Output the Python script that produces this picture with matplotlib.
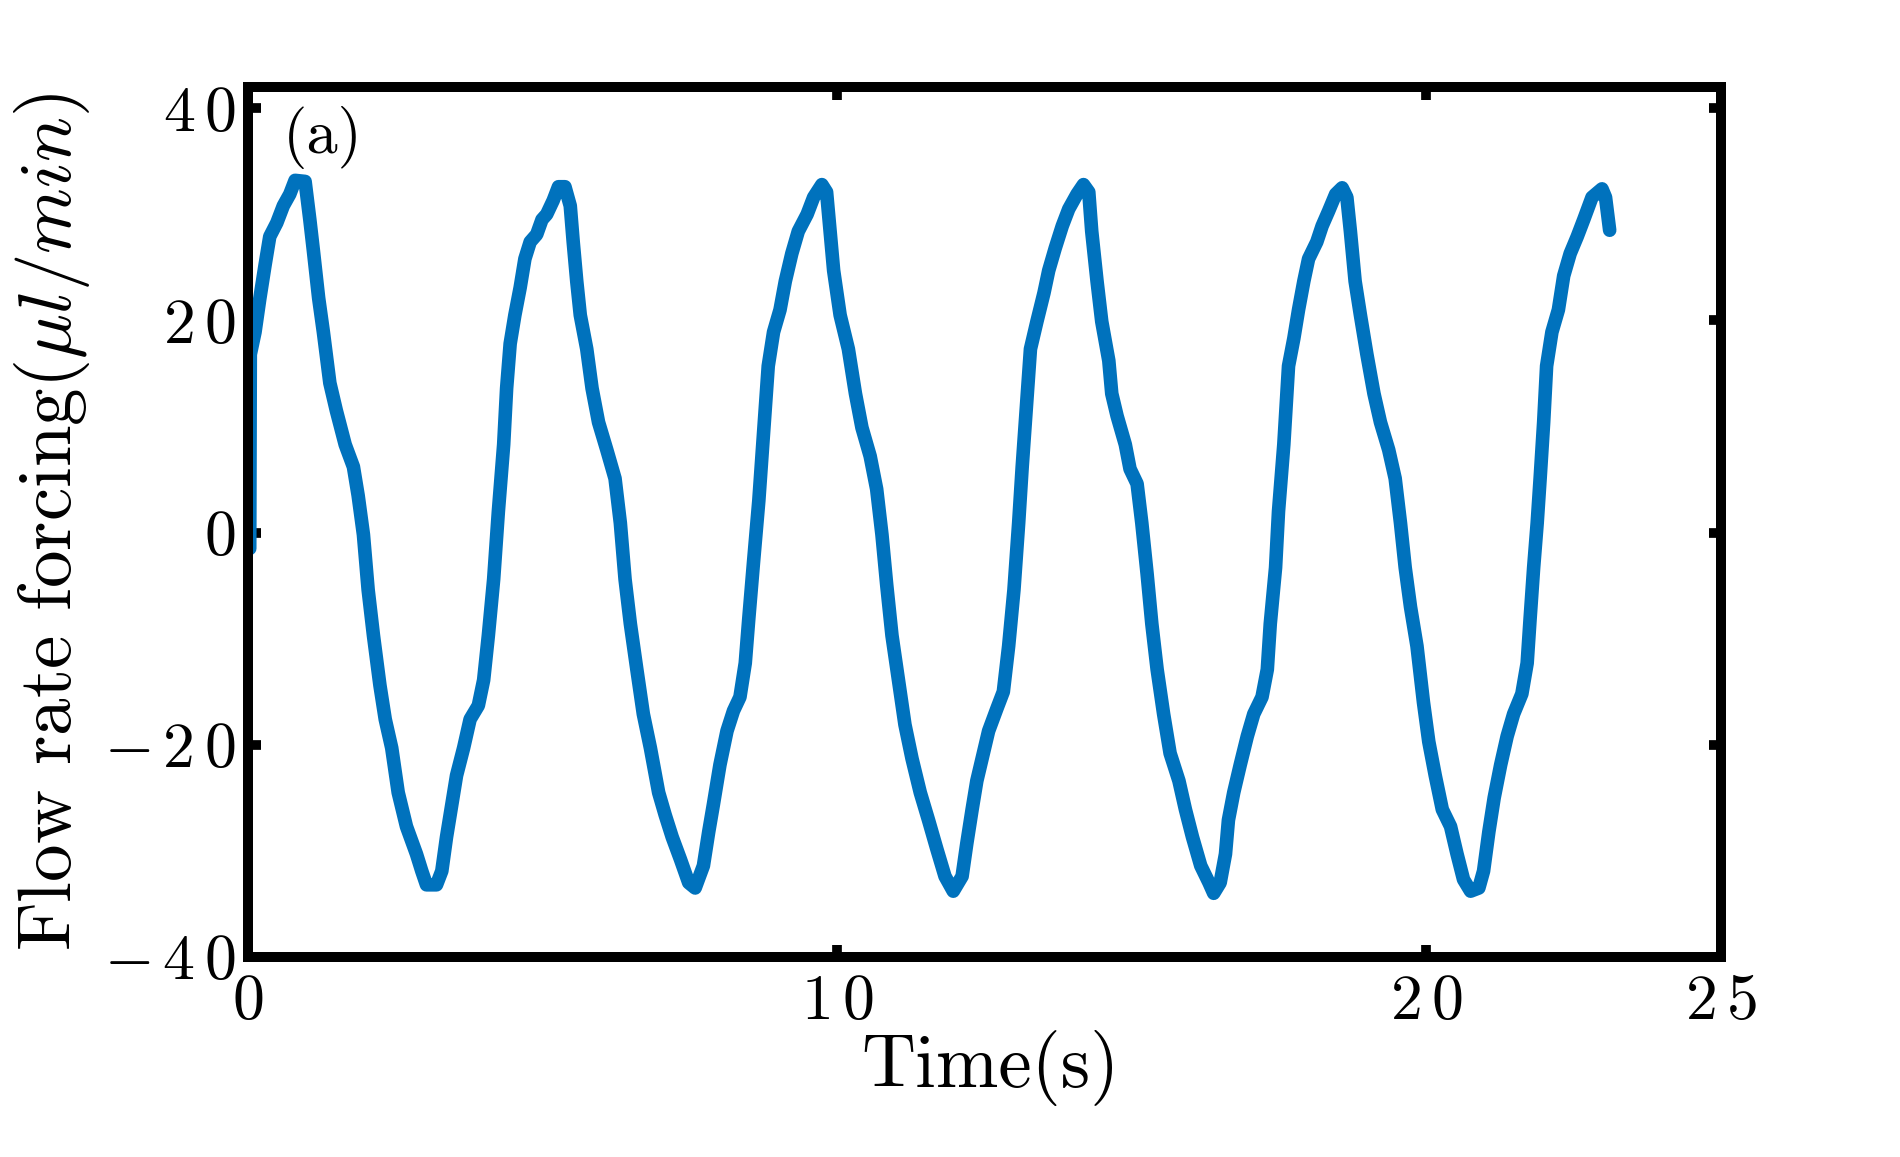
import matplotlib
matplotlib.use("Agg")
import matplotlib.pyplot as plt

# ---- data ----
time_s = [0.03, 0.04, 0.12, 0.20, 0.29, 0.37, 0.49, 0.60, 0.71, 0.80, 0.97, 1.05, 1.11, 1.20, 1.28,
          1.39, 1.50, 1.65, 1.79, 1.87, 1.96, 2.04, 2.13, 2.24, 2.33, 2.44, 2.55, 2.69, 2.86, 2.95,
          3.03, 3.20, 3.29, 3.37, 3.46, 3.54, 3.66, 3.77, 3.91, 4.00, 4.08, 4.17, 4.25, 4.34, 4.39,
          4.45, 4.53, 4.62, 4.70, 4.79, 4.90, 4.99, 5.07, 5.18, 5.27, 5.38, 5.47, 5.52, 5.58, 5.64,
          5.75, 5.84, 5.95, 6.09, 6.23, 6.32, 6.40, 6.49, 6.60, 6.71, 6.83, 6.97, 7.08, 7.20, 7.34,
          7.48, 7.59, 7.73, 7.82, 7.90, 8.01, 8.13, 8.24, 8.35, 8.44, 8.50, 8.58, 8.67, 8.75, 8.83,
          8.92, 9.03, 9.12, 9.23, 9.34, 9.49, 9.60, 9.74, 9.82, 9.88, 9.94, 10.05, 10.19, 10.31,
          10.42, 10.56, 10.67, 10.76, 10.84, 10.93, 11.04, 11.15, 11.27, 11.41, 11.55, 11.69, 11.83,
          11.97, 12.12, 12.20, 12.29, 12.37, 12.46, 12.57, 12.71, 12.82, 12.91, 13.00, 13.08, 13.14,
          13.22, 13.28, 13.39, 13.51, 13.59, 13.70, 13.82, 13.93, 14.07, 14.18, 14.27, 14.32, 14.41,
          14.49, 14.61, 14.66, 14.75, 14.89, 14.97, 15.09, 15.17, 15.26, 15.34, 15.43, 15.54, 15.65,
          15.80, 15.91, 16.03, 16.17, 16.31, 16.39, 16.50, 16.59, 16.64, 16.73, 16.84, 16.96, 17.07,
          17.21, 17.30, 17.35, 17.44, 17.49, 17.58, 17.66, 17.75, 17.83, 17.92, 18.00, 18.14, 18.23,
          18.34, 18.46, 18.57, 18.65, 18.71, 18.79, 18.88, 18.99, 19.11, 19.22, 19.36, 19.47, 19.56,
          19.64, 19.73, 19.84, 19.95, 20.04, 20.15, 20.27, 20.41, 20.52, 20.63, 20.75, 20.89, 20.97,
          21.06, 21.15, 21.26, 21.37, 21.48, 21.62, 21.71, 21.76, 21.82, 21.88, 21.93, 21.99, 22.04,
          22.13, 22.24, 22.33, 22.44, 22.56, 22.67, 22.81, 22.98, 23.04, 23.11]
flow_rate = [-1.5, 16.8, 18.9, 22.0, 25.2, 27.9, 29.2, 30.8, 31.9, 33.2, 33.1, 29.5, 26.6, 22.1, 18.9,
             14.1, 11.5, 8.3, 6.2, 3.5, -0.2, -5.4, -9.7, -14.4, -17.6, -20.3, -24.5, -27.7, -30.3, -31.9,
             -33.2, -33.2, -31.9, -28.7, -25.6, -22.9, -20.3, -17.6, -16.3, -13.9, -9.7, -4.4, 2.0, 8.3, 13.6,
             17.8, 20.5, 23.1, 25.8, 27.4, 28.1, 29.5, 30.0, 31.3, 32.6, 32.6, 30.8, 27.4, 23.7, 20.5,
             17.3, 13.6, 10.4, 7.8, 5.1, 0.9, -4.4, -8.6, -12.9, -17.1, -20.3, -24.5, -26.6, -28.7, -30.8,
             -33.0, -33.5, -31.4, -28.2, -25.6, -21.9, -18.7, -16.8, -15.5, -12.3, -8.1, -2.8, 3.0, 9.4, 15.7,
             18.9, 21.0, 23.7, 26.3, 28.4, 30.0, 31.6, 32.8, 32.1, 28.4, 24.7, 20.5, 17.3, 13.1,
             9.9, 7.2, 4.1, -0.2, -4.9, -9.7, -13.9, -18.1, -21.3, -24.5, -27.1, -29.8, -32.4,
             -33.8, -32.4, -29.3, -26.1, -23.4, -21.3, -18.7, -16.6, -15.0, -10.7, -5.4, 0.9, 6.2,
             12.5, 17.3, 19.9, 22.6, 24.7, 26.8, 28.9, 30.5, 31.9, 32.8, 32.1, 28.4, 23.7,
             19.9, 16.2, 13.1, 11.0, 8.3, 6.0, 4.6, 0.9, -3.9, -8.6, -12.9, -17.1, -20.8,
             -23.4, -26.1, -28.7, -31.4, -33.0, -34.0, -33.0, -30.3, -27.1, -24.5, -21.9, -19.2, -17.1,
             -15.5, -12.9, -8.6, -3.3, 2.0, 8.3, 15.7, 18.3, 21.0, 23.7, 25.8, 27.4, 28.9,
             30.3, 31.9, 32.5, 31.6, 28.4, 23.7, 20.5, 16.8, 13.1, 10.4, 7.8, 5.1, 0.9,
             -3.3, -7.0, -10.7, -16.0, -19.7, -22.9, -26.1, -27.7, -30.3, -32.7, -33.8, -33.5, -31.9,
             -28.2, -25.0, -21.9, -19.2, -17.1, -15.2, -12.3, -8.1, -3.3, 0.9, 5.1, 10.4, 15.7,
             18.9, 21.0, 24.2, 26.3, 27.9, 29.5, 31.6, 32.4, 31.6, 28.5]

x_ticks = [0, 10, 20, 25]
x_tick_labels = ["0", "10", "20", "25"]
y_ticks = [-40, -20, 0, 20, 40]
y_tick_labels = ["-40", "-20", "0", "20", "40"]
x_label = "Time(s)"
y_label = r"Flow rate forcing($\mu l/min$)"
panel_label = "(a)"

# ---- style ----
plt.rcParams["font.family"] = ["cmr10", "DejaVu Serif"]
plt.rcParams["mathtext.fontset"] = "cm"
plt.rcParams["axes.formatter.use_mathtext"] = True


def spaced(s):
    # MATLAB/LaTeX tick labels are drawn with a small gap between characters
    return "$" + r"\,".join(list(s)) + "$"


fig = plt.figure(figsize=(19.0, 11.57), dpi=100)
ax = fig.add_axes([0.1305, 0.1729, 0.9058 - 0.1305, 0.9248 - 0.1729])

ax.plot(time_s, flow_rate, color="#0072BD", lw=9.8,
        solid_capstyle="round", solid_joinstyle="round")

ax.set_xlim(0, 25)
ax.set_ylim(-40, 42)
ax.set_xticks(x_ticks)
ax.set_xticklabels([spaced(s) for s in x_tick_labels])
ax.set_yticks(y_ticks)
ax.set_yticklabels([spaced(s) for s in y_tick_labels])

ax.tick_params(axis="both", which="major", direction="in", length=9, width=7,
               top=True, right=True, labelsize=46, color="black")
ax.tick_params(axis="x", pad=12)
ax.tick_params(axis="y", pad=9)
for sp in ax.spines.values():
    sp.set_linewidth(7.2)
    sp.set_color("black")

ax.set_xlabel(x_label, fontsize=54)
ax.xaxis.set_label_coords(0.504, -0.084)
ax.xaxis.label.set_va("top")
ax.set_ylabel(y_label, fontsize=54)
ax.yaxis.set_label_coords(-0.106, 0.5)

ax.text(0.024, 0.978, panel_label, transform=ax.transAxes, fontsize=45,
        ha="left", va="top")

fig.savefig("out.png", dpi=100)
